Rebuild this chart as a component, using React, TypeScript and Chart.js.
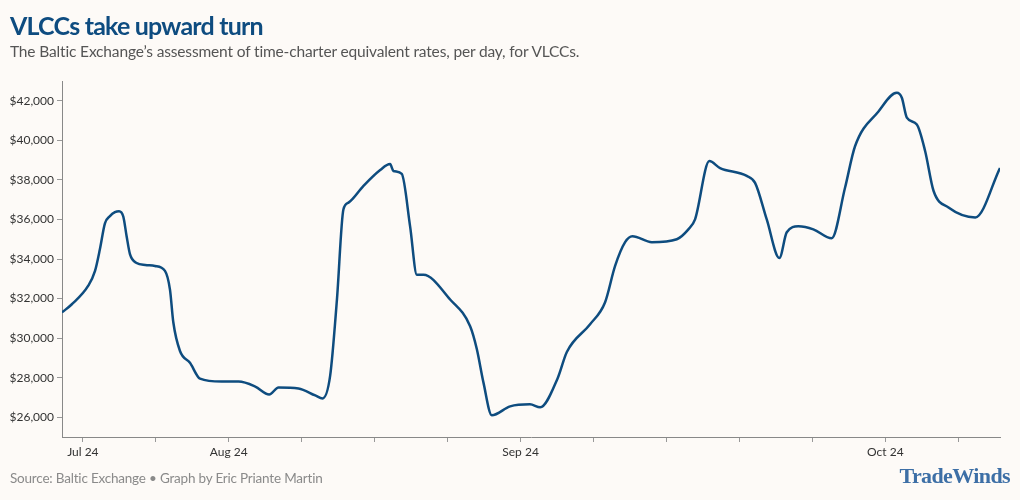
import React, { useEffect, useRef } from "react";
import { Chart, registerables } from "chart.js";

Chart.register(...registerables);

// Position of each reading along the x axis, in data-point index units (0..90)
const pointIndex = [
  0, 0.92, 2.52, 3.17, 3.64, 4.12, 4.6, 5.08, 5.47, 5.88, 6.2, 6.52, 7.16, 7.99, 8.92, 9.88,
  10.36, 10.68, 11.32, 12.28, 13.24, 15.31, 16.94, 18.54, 19.88, 20.78, 22.69, 24.3, 25.0, 25.73,
  26.38, 27.0, 27.49, 28.93, 30.53, 31.48, 31.8, 32.6, 33.4, 34.05, 34.68, 37.24, 39.16, 39.8,
  40.44, 41.24, 43.0, 44.9, 45.88, 47.54, 48.44, 50.67, 52.1, 53.07, 54.03, 54.73, 56.59, 58.99,
  60.1, 60.74, 62.11, 63.14, 65.7, 66.5, 67.62, 68.83, 69.54, 70.65, 72.09, 73.85, 75.13, 76.09,
  78.32, 80.1, 80.58, 81.06, 82.02, 82.82, 83.62, 85.06, 87.63, 90,
];

// Baltic Exchange VLCC TCE rate, USD per day
const rateUsd = [
  31300, 31700, 32650, 33400, 34500, 35800, 36170, 36370, 36420, 36150, 35150, 34250, 33800,
  33700, 33650, 33400, 32450, 30800, 29350, 28750, 27950, 27800, 27800, 27550, 27150, 27500, 27450,
  27100, 26950, 28100, 31950, 36500, 36850, 37700, 38500, 38800, 38450, 38300, 35650, 33200, 33200,
  31950, 30600, 29450, 27750, 26100, 26550, 26650, 26500, 27950, 29300, 30700, 31800, 33650, 34850,
  35150, 34850, 35000, 35500, 36000, 38950, 38600, 38200, 37850, 36000, 34050, 35350, 35650, 35500,
  35050, 37600, 39700, 41450, 42400, 42150, 41150, 40800, 39450, 37450, 36600, 36100, 38600,
];

const xTickPositions = [2, 9, 16, 23, 30, 37, 44, 51, 58, 65, 72, 79, 86];
const xTickLabels = ["Jul 24", "", "Aug 24", "", "", "", "Sep 24", "", "", "", "", "Oct 24", ""];
const yTickValues = [26000, 28000, 30000, 32000, 34000, 36000, 38000, 40000, 42000];

const FONT = "Lato, 'Open Sans', sans-serif";

export default function App() {
  const canvasRef = useRef<HTMLCanvasElement | null>(null);

  useEffect(() => {
    document.body.style.margin = "0";
    const canvas = canvasRef.current;
    if (!canvas) return;
    const chart = new Chart(canvas, {
      type: "line",
      data: {
        datasets: [
          {
            data: pointIndex.map((x, i) => ({ x, y: rateUsd[i] })),
            borderColor: "#0e4c7f",
            borderWidth: 2.5,
            pointRadius: 0,
            fill: false,
            cubicInterpolationMode: "monotone",
          },
        ],
      },
      options: {
        responsive: false,
        animation: false,
        events: [],
        layout: { padding: { top: 81, right: 20, left: 0, bottom: 0 } },
        plugins: { legend: { display: false }, tooltip: { enabled: false }, title: { display: false } },
        scales: {
          x: {
            type: "linear",
            min: 0,
            max: 90,
            afterBuildTicks: (s: any) => {
              s.ticks = xTickPositions.map((v) => ({ value: v }));
            },
            afterFit: (s: any) => {
              s.height = 63;
            },
            ticks: {
              autoSkip: false,
              maxRotation: 0,
              padding: 3,
              color: "#333",
              font: { family: FONT, size: 12 },
              callback: (v: any) => {
                const i = xTickPositions.indexOf(Number(v));
                return i >= 0 ? xTickLabels[i] : "";
              },
            },
            grid: { drawOnChartArea: false, drawTicks: true, tickLength: 5, color: "#999" },
            border: { display: true, color: "#888", width: 1 },
          },
          y: {
            type: "linear",
            min: 25000,
            max: 43000,
            afterBuildTicks: (s: any) => {
              s.ticks = yTickValues.map((v) => ({ value: v }));
            },
            afterFit: (s: any) => {
              s.width = 62;
            },
            ticks: {
              padding: 3,
              color: "#333",
              font: { family: FONT, size: 12 },
              callback: (v: any) => "$" + Number(v).toLocaleString("en-US"),
            },
            grid: { drawOnChartArea: false, drawTicks: true, tickLength: 5, color: "#999" },
            border: { display: true, color: "#888", width: 1 },
          },
        },
      },
    });
    return () => chart.destroy();
  }, []);

  return (
    <div
      style={{
        position: "relative",
        width: 1020,
        height: 500,
        background: "#fdfaf7",
        overflow: "hidden",
        fontFamily: FONT,
      }}
    >
      <canvas ref={canvasRef} width={1020} height={500} style={{ position: "absolute", left: 0, top: 0 }} />
      <div
        style={{
          position: "absolute",
          left: 10,
          top: 13,
          fontSize: 25,
          lineHeight: 1,
          fontWeight: 700,
          color: "#0e4c80",
          whiteSpace: "nowrap",
          letterSpacing: -0.8,
        }}
      >
        VLCCs take upward turn
      </div>
      <div
        style={{
          position: "absolute",
          left: 10,
          top: 44,
          fontSize: 15.5,
          lineHeight: 1,
          color: "#555",
          whiteSpace: "nowrap",
          letterSpacing: -0.15,
        }}
      >
        The Baltic Exchange’s assessment of time-charter equivalent rates, per day, for VLCCs.
      </div>
      <div
        style={{
          position: "absolute",
          left: 10,
          top: 472,
          fontSize: 13.5,
          lineHeight: 1,
          color: "#8a8a8a",
          whiteSpace: "nowrap",
          letterSpacing: -0.2,
        }}
      >
        Source: Baltic Exchange • Graph by Eric Priante Martin
      </div>
      <div
        style={{
          position: "absolute",
          right: 10,
          top: 465,
          fontSize: 22,
          lineHeight: 1,
          fontWeight: 700,
          fontFamily: "'Liberation Serif', 'DejaVu Serif', serif",
          color: "#3d6fa6",
          whiteSpace: "nowrap",
          letterSpacing: -0.6,
        }}
      >
        TradeWinds
      </div>
    </div>
  );
}
